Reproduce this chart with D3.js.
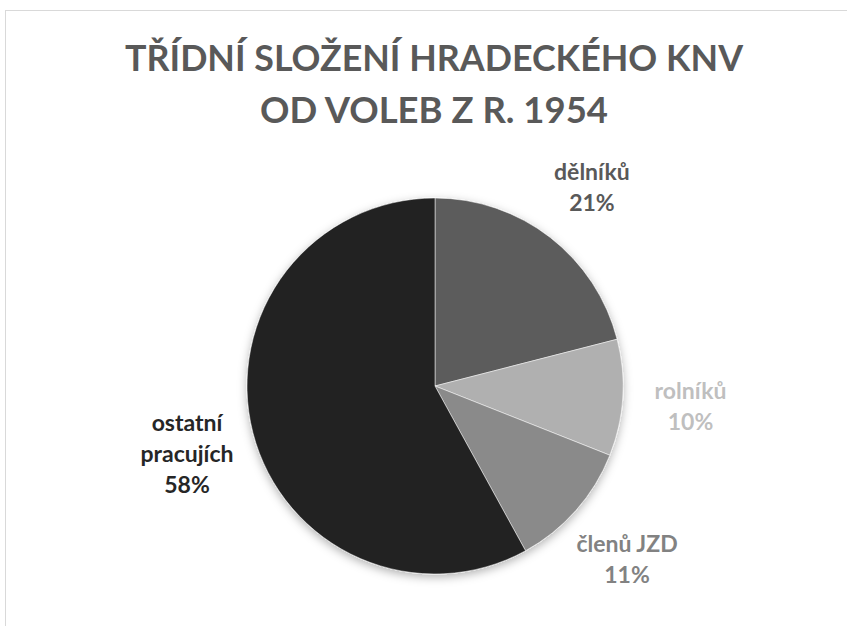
<!DOCTYPE html>
<meta http-equiv="content-type" content="text/html; charset=utf-8">
<style>
body { margin: 0; background: #fff; }
text { font-family: Lato, "Open Sans", sans-serif; font-weight: bold; }
</style>
<body>
<div id="chart"></div>
<script src="https://d3js.org/d3.v7.min.js"></script>
<script>
var titleLines = ["TŘÍDNÍ SLOŽENÍ HRADECKÉHO KNV", "OD VOLEB Z R. 1954"];
var categories = ["dělníků", "rolníků", "členů JZD", "ostatní pracujích"];
var labelLines = [["dělníků"], ["rolníků"], ["členů JZD"], ["ostatní", "pracujích"]];
var shares = [21, 10, 11, 58];
var sliceColors = ["#5c5c5c", "#b0b0b0", "#8a8a8a", "#232323"];
var labelColors = ["#595959", "#bfbfbf", "#828282", "#262626"];

var width = 847, height = 626;
var cx = 435, cy = 386, radius = 188;

var svg = d3.select("#chart").append("svg")
    .attr("width", width)
    .attr("height", height);

// chart area border (cut off by the window on right and bottom)
svg.append("rect")
    .attr("x", 5.5).attr("y", 10.5)
    .attr("width", 1000).attr("height", 1000)
    .attr("fill", "none")
    .attr("stroke", "#d9d9d9");

var defs = svg.append("defs");
defs.append("filter")
    .attr("id", "shadow")
    .attr("x", "-20%").attr("y", "-20%")
    .attr("width", "140%").attr("height", "140%")
  .append("feDropShadow")
    .attr("dx", 0).attr("dy", 3)
    .attr("stdDeviation", 5)
    .attr("flood-color", "#000")
    .attr("flood-opacity", 0.3);

// title
var title = svg.append("g");
title.selectAll("text")
  .data(titleLines)
  .enter().append("text")
    .attr("x", cx - 1)
    .attr("y", function(d, i) { return 71 + i * 52; })
    .attr("text-anchor", "middle")
    .attr("font-size", 37)
    .attr("fill", "#595959")
    .text(function(d) { return d; })
    .each(function(d, i) {
      // squeeze the substitute font to the width of the original
      var target = i == 0 ? 618 : 348;
      d3.select(this).attr("textLength", target).attr("lengthAdjust", "spacingAndGlyphs");
    });

var pie = d3.pie()
    .sort(null)
    .value(function(d) { return d; });

var arcs = pie(shares);

var arc = d3.arc()
    .innerRadius(0)
    .outerRadius(radius);

var labelArc = d3.arc()
    .innerRadius(256)
    .outerRadius(256);

var g = svg.append("g")
    .attr("transform", "translate(" + cx + "," + cy + ")");

g.append("g")
    .attr("filter", "url(#shadow)")
  .selectAll("path")
  .data(arcs)
  .enter().append("path")
    .attr("d", arc)
    .attr("fill", function(d, i) { return sliceColors[i]; })
    .attr("stroke", "#fff")
    .attr("stroke-width", 0.5);

var lh = 31;
var labels = g.selectAll("text.label")
  .data(arcs)
  .enter().append("text")
    .attr("class", "label")
    .attr("text-anchor", "middle")
    .attr("font-size", 23)
    .attr("fill", function(d, i) { return labelColors[i]; })
    .attr("transform", function(d) { return "translate(" + labelArc.centroid(d) + ")"; });

labels.each(function(d, i) {
  var lines = labelLines[i].concat([shares[i] + "%"]);
  var y0 = -(lines.length - 1) * lh / 2 + 12;
  d3.select(this).selectAll("tspan")
    .data(lines)
    .enter().append("tspan")
      .attr("x", 0)
      .attr("y", function(t, j) { return y0 + j * lh; })
      .text(function(t) { return t; });
});
</script>
</body>
</html>
